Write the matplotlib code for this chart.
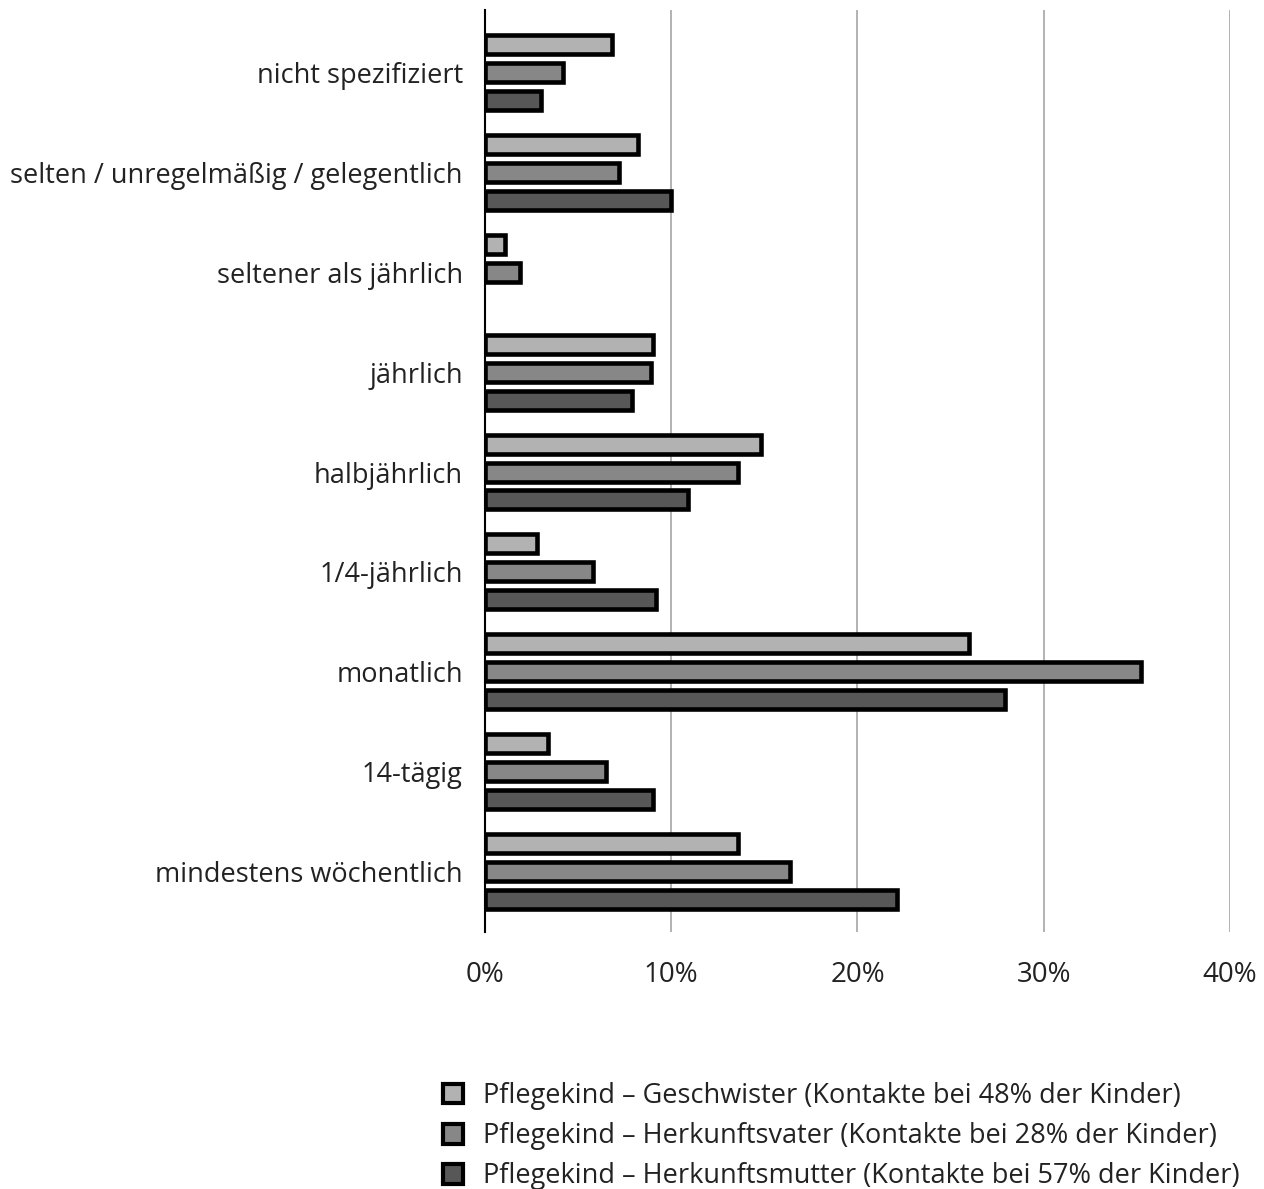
import matplotlib.pyplot as plt
from matplotlib.patches import Patch
import numpy as np

plt.rcParams['font.family'] = ['Open Sans', 'DejaVu Sans']

categories = ['nicht spezifiziert', 'selten / unregelmäßig / gelegentlich',
              'seltener als jährlich', 'jährlich', 'halbjährlich',
              '1/4-jährlich', 'monatlich', '14-tägig', 'mindestens wöchentlich']

# percent values
geschwister = [6.8, 8.2, 1.1, 9.0, 14.8, 2.8, 26.0, 3.4, 13.6]
vater = [4.2, 7.2, 1.9, 8.9, 13.6, 5.8, 35.2, 6.5, 16.4]
mutter = [3.0, 10.0, 0.0, 7.9, 10.9, 9.2, 27.9, 9.0, 22.1]

labels = ['Pflegekind – Geschwister (Kontakte bei 48% der Kinder)',
          'Pflegekind – Herkunftsvater (Kontakte bei 28% der Kinder)',
          'Pflegekind – Herkunftsmutter (Kontakte bei 57% der Kinder)']
colors = ['#b2b2b2', '#878787', '#575757']

fig = plt.figure(figsize=(12.64, 11.89), dpi=100)
ax = fig.add_axes([0.3837, 0.2161, 0.5894, 0.7755])

y = np.arange(len(categories))
step = 0.28
for i, (vals, c) in enumerate(zip([geschwister, vater, mutter], colors)):
    v = np.array(vals)
    yy = y + (i - 1) * step
    mask = v > 0
    ax.barh(yy[mask], v[mask], height=0.19, color=c, edgecolor='black',
            linewidth=3.3, zorder=3)

ax.set_xlim(0, 40)
ax.set_ylim(8.61, -0.63)
ax.set_xticks([0, 10, 20, 30, 40])
ax.set_xticklabels(['0%', '10%', '20%', '30%', '40%'], fontsize=20, color='#222222')
ax.set_yticks(y)
ax.set_yticklabels(categories, fontsize=19.5, color='#222222')
ax.tick_params(axis='both', length=0)
ax.tick_params(axis='y', pad=16)
ax.tick_params(axis='x', pad=21)
ax.grid(axis='x', color='#a6a6a6', linewidth=1.2, zorder=0)
for s in ['top', 'right', 'bottom']:
    ax.spines[s].set_visible(False)
ax.spines['left'].set_color('black')
ax.spines['left'].set_linewidth(1.5)
ax.spines['left'].set_zorder(4)

handles = [Patch(facecolor=c, edgecolor='black', linewidth=3) for c in colors]
fig.legend(handles, labels, loc='upper left', bbox_to_anchor=(0.331, 0.1105),
           frameon=False, fontsize=19.5, handlelength=0.75, handleheight=0.75,
           handletextpad=0.75, labelspacing=0.45, labelcolor='#222222')

fig.savefig('out.png', dpi=100)
